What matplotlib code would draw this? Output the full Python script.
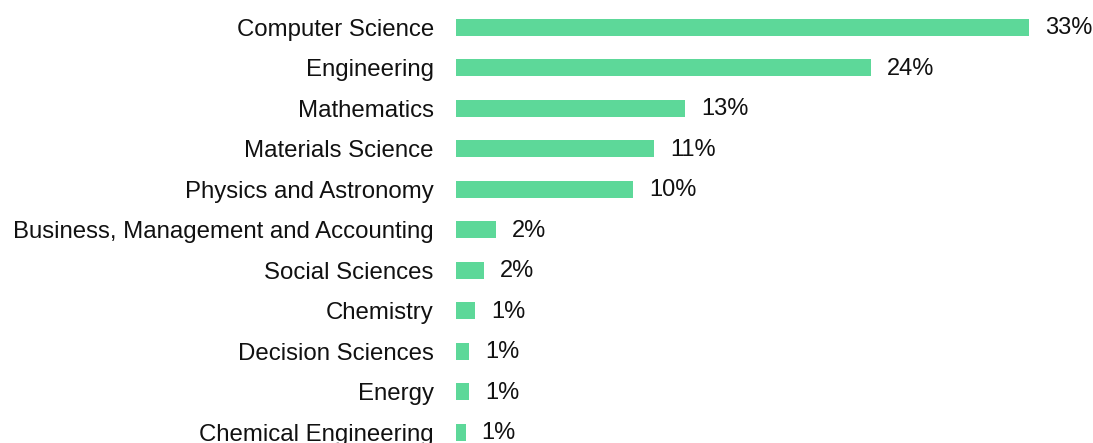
import matplotlib
matplotlib.use("Agg")
import matplotlib.pyplot as plt

# data
subjects = [
    "Computer Science",
    "Engineering",
    "Mathematics",
    "Materials Science",
    "Physics and Astronomy",
    "Business, Management and Accounting",
    "Social Sciences",
    "Chemistry",
    "Decision Sciences",
    "Energy",
    "Chemical Engineering",
]
shares = [33.0, 23.9, 13.2, 11.4, 10.2, 2.3, 1.6, 1.1, 0.75, 0.75, 0.55]
share_labels = ["33%", "24%", "13%", "11%", "10%", "2%", "2%", "1%", "1%", "1%", "1%"]

plt.rcParams["font.family"] = ["Liberation Sans", "DejaVu Sans"]

W, H = 1093, 443
fig = plt.figure(figsize=(W / 100, H / 100), dpi=100)
ax = fig.add_axes([456 / W, 0, (W - 456) / W, 1])

pos = list(range(len(subjects)))
ax.barh(pos, shares, height=0.42, color="#5dd899")

# value labels to the right of each bar
for p, v, lab in zip(pos, shares, share_labels):
    ax.annotate(lab, (v, p), xytext=(11.5, -1), textcoords="offset points",
                va="center", ha="left", fontsize=17, color="#111111")

ax.set_yticks(pos)
ax.set_yticklabels(subjects, fontsize=17.25, color="#111111")
ax.tick_params(axis="y", length=0, pad=16)
ax.set_xticks([])
ax.set_xlim(0, 33 * (W - 456) / 573)
ax.set_ylim(10.27, -0.667)
for s in ax.spines.values():
    s.set_visible(False)

fig.savefig("out.png", dpi=100)
plt.close(fig)
